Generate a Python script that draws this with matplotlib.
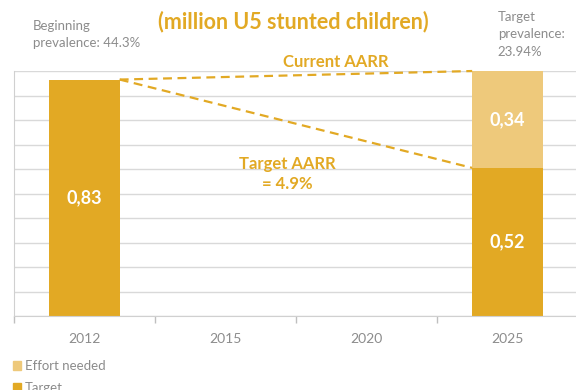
import numpy as np
import matplotlib.pyplot as plt
from matplotlib.patches import Patch

# stunting target chart: million under-5 stunted children
years = ["2012", "2015", "2020", "2025"]
target = [0.83, 0, 0, 0.52]
effort = [0, 0, 0, 0.34]
beginning_prev = "44.3%"
target_prev = "23.94%"
target_aarr = "4.9%"

dark = "#E2A924"
light = "#EEC97B"
grey = "#8C8C8C"

plt.rcParams["font.family"] = ["Lato", "DejaVu Sans"]

fig = plt.figure(figsize=(5.76, 3.9), dpi=100)
ax = fig.add_axes([0.0243, 0.1897, 0.979, 0.6282])

x = np.arange(len(years))
w = 0.5
ymax = target[-1] + effort[-1]

# horizontal grid, 10 bands
for g in np.linspace(0, ymax, 11):
    ax.axhline(g, color="#D9D9D9", lw=1.0, zorder=0)

ax.bar(x, target, width=w, color=dark, zorder=2)
ax.bar(x, effort, width=w, bottom=target, color=light, zorder=2)

def fmt(v):
    return ("%.2f" % v).replace(".", ",")

ax.text(x[0], target[0] / 2, fmt(target[0]), color="white", fontsize=13,
        fontweight="bold", ha="center", va="center", zorder=3)
ax.text(x[3], target[3] / 2, fmt(target[3]), color="white", fontsize=13,
        fontweight="bold", ha="center", va="center", zorder=3)
ax.text(x[3], target[3] + effort[3] / 2, fmt(effort[3]), color="white",
        fontsize=13, fontweight="bold", ha="center", va="center", zorder=3)

# trajectories from the 2012 bar to the 2025 bar
x0, x1 = x[0] + w / 2, x[3] - w / 2
ax.plot([x0, x1], [target[0], ymax], ls=(0, (4, 2.5)), color=dark, lw=1.6,
        zorder=3, clip_on=False)
ax.plot([x0, x1], [target[0], target[3]], ls=(0, (4, 2.5)), color=dark,
        lw=1.6, zorder=3)

ax.text(1.78, ymax * 1.035, "Current AARR", color=dark, fontsize=12,
        fontweight="bold", ha="center", va="center")
ax.text(1.44, 0.5, "Target AARR\n= " + target_aarr, color=dark, fontsize=12,
        fontweight="bold", ha="center", va="center", linespacing=1.3)

ax.set_xlim(-0.5, 3.5)
ax.set_ylim(0, ymax)
ax.set_yticks([])
ax.set_xticks(np.arange(-0.5, 4.0, 1.0))
ax.set_xticklabels([])
ax.set_xticks(x, minor=True)
ax.set_xticklabels(years, minor=True)
ax.tick_params(axis="x", which="major", length=5, color="#BFBFBF", width=1)
ax.tick_params(axis="x", which="minor", length=0, pad=12, labelsize=10,
               labelcolor=grey)
for s in ["top", "right"]:
    ax.spines[s].set_visible(False)
ax.spines["left"].set_color("#D0D0D0")
ax.spines["bottom"].set_color("#D0D0D0")

fig.text(0.509, 0.946, "(million U5 stunted children)", color=dark,
         fontsize=15.5, fontweight="bold", ha="center", va="center")
fig.text(0.057, 0.95, "Beginning\nprevalence: " + beginning_prev, color=grey,
         fontsize=9.5, ha="left", va="top", linespacing=1.55)
fig.text(0.864, 0.972, "Target\nprevalence:\n" + target_prev, color=grey,
         fontsize=9.5, ha="left", va="top", linespacing=1.55)

handles = [Patch(color=light, label="Effort needed"),
           Patch(color=dark, label="Target")]
fig.legend(handles=handles, loc="upper left", bbox_to_anchor=(0.022, 0.076),
           frameon=False, fontsize=9.5, labelcolor=grey, handlelength=0.65,
           handleheight=0.65, handletextpad=0.3, labelspacing=0.7,
           borderaxespad=0, borderpad=0)

fig.savefig("out.png", dpi=100)
